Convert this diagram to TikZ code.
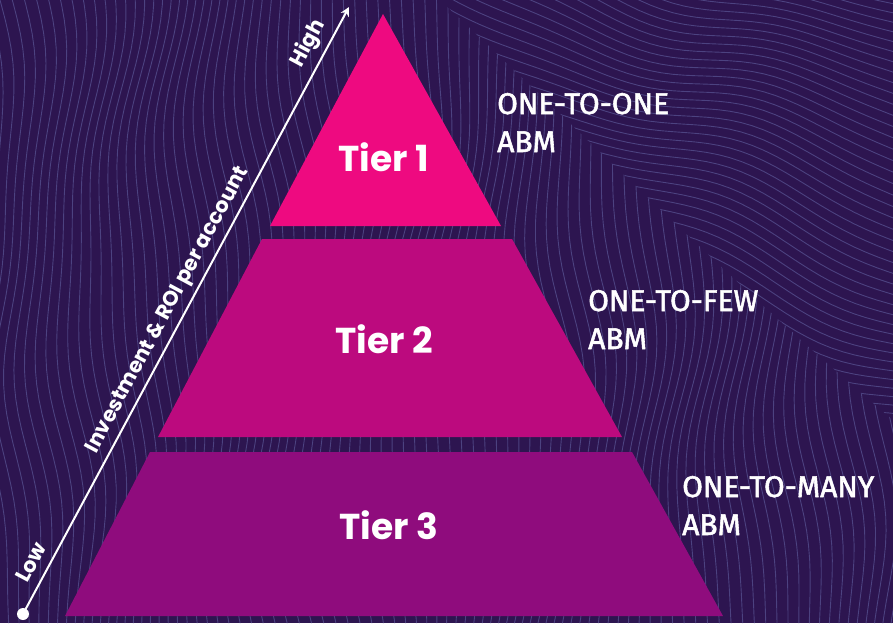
\documentclass[tikz,border=0pt]{standalone}
\usepackage{fontspec}
\usetikzlibrary{arrows.meta}
\newfontfamily\popf{Poppins}
\newfontfamily\firaf{Fira Sans}[FakeBold=1.8]
\definecolor{bg}{HTML}{2D1550}
\definecolor{wave}{HTML}{4C4280}
\definecolor{tone}{HTML}{EE0A80}
\definecolor{ttwo}{HTML}{BC0A7E}
\definecolor{tthree}{HTML}{8F0C7D}
\tikzset{
  wavy/.style={draw=wave, line width=0.9pt},
  tierlbl/.style={text=white, font=\popf\bfseries\fontsize{36}{40}\selectfont, inner sep=0pt},
  side/.style={text=white, font=\firaf\fontsize{30}{34}\selectfont, inner sep=0pt, anchor=base west},
  axislbl/.style={text=white, font=\popf\bfseries\fontsize{21}{24}\selectfont, sloped, anchor=base, yshift=10pt, inner sep=0pt},
  axisline/.style={draw=white, line width=2pt, -{Stealth[length=9pt,width=9pt]}},
  dotc/.style={circle, fill=white, minimum size=12pt, inner sep=0pt}
}
\begin{document}
\begin{tikzpicture}[x=1pt,y=-1pt]
\fill[bg] (0,0) rectangle (893,623);
\useasboundingbox (0,0) rectangle (893,623);
% background waves
\begin{scope}
  \clip (0,0) -- (440,0) .. controls (600,150) and (750,300) .. (893,420) -- (893,623) -- (0,623) -- cycle;
  \foreach \k in {-4,...,92} {
    \draw[wavy] plot[domain=-10:633, samples=45, variable=\t]
      ({\k*10 + 13*sin(\t*0.7 + \k*9) + 4*sin(\t*1.6 + \k*4)}, \t);
  }
\end{scope}
\begin{scope}
  \clip (440,0) .. controls (600,150) and (750,300) .. (893,420) -- (893,0) -- cycle;
  \foreach \k in {-30,...,50} {
    \draw[wavy] plot[domain=400:900, samples=45, variable=\t]
      (\t, {\k*10 + 0.35*(\t-400) + 14*sin(\t*0.8 + \k*7) + 4*sin(\t*1.8 + \k*3)});
  }
\end{scope}
% pyramid
\fill[tone] (383,14) -- (501,226) -- (270,226) -- cycle;
\fill[ttwo] (262,239) -- (512,239) -- (622,437) -- (158,437) -- cycle;
\fill[tthree] (150,452) -- (632,452) -- (723,616) -- (65,616) -- cycle;
\node[tierlbl] (t1) at (384,157) {Tier 1};
\node[tierlbl] (t2) at (384,339) {Tier 2};
\node[tierlbl] (t3) at (389,525) {Tier 3};
% side labels
\node[side] (s1a) at (497,114) {ONE-TO-ONE};
\node[side] (s1b) at (497,152) {ABM};
\node[side] (s2a) at (588,311) {ONE-TO-FEW};
\node[side] (s2b) at (588,349) {ABM};
\node[side] (s3a) at (682,497) {ONE-TO-MANY};
\node[side] (s3b) at (682,535) {ABM};
% axis
\node[dotc] (lo) at (23,614) {};
\coordinate (hi) at (349,7);
\draw[axisline] (lo.center) -- (hi)
  node[axislbl, pos=0.072] (low) {Low}
  node[axislbl, pos=0.488, yshift=1pt] (inv) {Investment \& ROI per account}
  node[axislbl, pos=0.925, yshift=3pt] (high) {High};
\end{tikzpicture}
\end{document}
